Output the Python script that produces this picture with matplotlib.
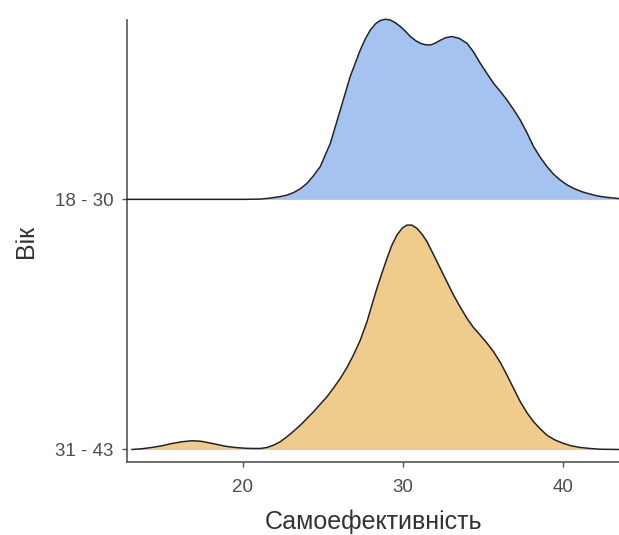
import matplotlib
matplotlib.use("Agg")
import matplotlib.pyplot as plt

plt.rcParams['font.family'] = ['Liberation Sans', 'DejaVu Sans']

categories = ["31 - 43", "18 - 30"]
xlabel = "Самоефективність"
ylabel = "Вік"
x_ticks = [20, 30, 40]

# Ridge heights (in units of the spacing between ridges)
young_x = [12.75, 20.0, 21.08, 21.7, 22.33, 22.75, 23.16, 23.6, 24.0, 24.4, 24.83, 25.46, 26.08, 26.7,
           27.33, 27.65, 27.96, 28.3, 28.58, 28.9, 29.2, 29.5, 29.83, 30.15, 30.46, 30.8, 31.08,
           31.4, 31.71, 32.0, 32.33, 32.65, 33.05, 33.5, 34.0, 34.4, 34.83, 35.25, 35.66, 36.1,
           36.5, 36.9, 37.33, 37.75, 38.16, 38.6, 39.0, 39.4, 39.83, 40.25, 40.66, 41.2, 41.7,
           42.2, 42.75, 43.5]
young_h = [0.0, 0.0, 0.001, 0.005, 0.011, 0.017, 0.027, 0.043, 0.064, 0.094, 0.131, 0.224, 0.357, 0.491,
           0.597, 0.642, 0.677, 0.703, 0.715, 0.720, 0.717, 0.707, 0.691, 0.672, 0.651, 0.634, 0.624,
           0.618, 0.617, 0.624, 0.636, 0.646, 0.651, 0.644, 0.624, 0.590, 0.544, 0.503, 0.464, 0.430,
           0.397, 0.360, 0.317, 0.266, 0.211, 0.166, 0.131, 0.101, 0.077, 0.058, 0.044, 0.030, 0.021,
           0.013, 0.008, 0.003]

older_x = [13.06, 13.7, 14.3, 14.95, 15.56, 16.2, 16.81, 17.35, 17.85, 18.4, 18.9, 19.5, 20.14, 20.6,
           21.08, 21.5, 21.9, 22.33, 22.75, 23.16, 23.58, 24.0, 24.41, 24.83, 25.25, 25.66, 26.08,
           26.5, 26.9, 27.33, 27.75, 28.05, 28.37, 28.7, 29.0, 29.3, 29.62, 29.95, 30.25, 30.55,
           30.87, 31.2, 31.5, 31.9, 32.33, 32.75, 33.16, 33.58, 34.0, 34.4, 34.83, 35.25, 35.66,
           36.1, 36.5, 36.9, 37.33, 37.75, 38.16, 38.6, 39.0, 39.5, 40.04, 40.5, 41.08, 41.7,
           42.33, 43.5]
older_h = [0.0, 0.003, 0.008, 0.015, 0.024, 0.031, 0.035, 0.033, 0.027, 0.020, 0.013, 0.008, 0.005, 0.004,
           0.004, 0.008, 0.017, 0.031, 0.051, 0.073, 0.097, 0.124, 0.151, 0.181, 0.211, 0.246, 0.284,
           0.328, 0.377, 0.437, 0.511, 0.576, 0.644, 0.708, 0.764, 0.816, 0.857, 0.885, 0.897, 0.897,
           0.884, 0.860, 0.831, 0.780, 0.724, 0.670, 0.617, 0.569, 0.524, 0.488, 0.457, 0.425, 0.391,
           0.346, 0.297, 0.246, 0.191, 0.147, 0.111, 0.081, 0.057, 0.038, 0.024, 0.015, 0.008, 0.004,
           0.001, 0.0]

fills = ["#F0CC8C", "#A4C3F0"]

fig = plt.figure(figsize=(6.19, 5.35), dpi=100)
ax = fig.add_axes([127 / 619, (535 - 462) / 535, (619 - 127) / 619, (462 - 20) / 535])

series = [(older_x, older_h), (young_x, young_h)]
# draw top ridge first so the lower ridge overlaps it
for i in [1, 0]:
    xs, hs = series[i]
    ys = [i + h for h in hs]
    ax.fill_between(xs, [i] * len(xs), ys, color=fills[i], lw=0, zorder=2 + (1 - i) * 2, clip_on=False)
    ax.plot(xs, ys, color="#222222", lw=1.1, zorder=3 + (1 - i) * 2, clip_on=False,
            solid_joinstyle="round")

ax.set_xlim(12.75, 43.5)
ax.set_ylim(-0.05, 1.717)
ax.set_xticks(x_ticks)
ax.set_xticklabels([str(t) for t in x_ticks])
ax.set_yticks([0, 1])
ax.set_yticklabels(categories)

for s in ["top", "right"]:
    ax.spines[s].set_visible(False)
for s in ["left", "bottom"]:
    ax.spines[s].set_color("#555555")
    ax.spines[s].set_linewidth(1.2)
ax.tick_params(axis="both", colors="#555555", length=3.6, width=1.0, labelsize=13.5,
               labelcolor="#4D4D4D")
ax.tick_params(axis="x", pad=8.5)
ax.tick_params(axis="y", pad=6)
ax.set_xlabel(xlabel, fontsize=18, color="#333333", labelpad=10)
ax.set_ylabel(ylabel, fontsize=18, color="#333333", labelpad=12)
fig.patch.set_facecolor("white")
ax.set_facecolor("white")

fig.savefig("out.png", dpi=100)
